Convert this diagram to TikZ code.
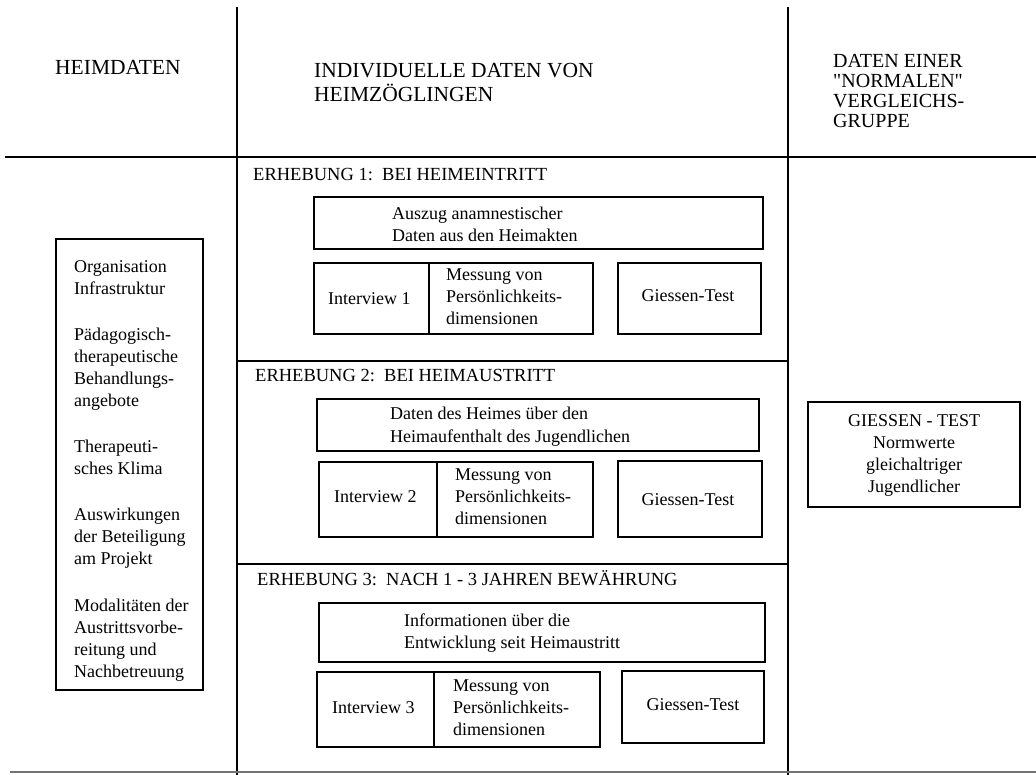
\documentclass[tikz,border=0pt]{standalone}
\usepackage{fontspec}
\setmainfont{Liberation Serif}
\newfontfamily\gerade{Liberation Serif}
\usepackage{tikz}
\usetikzlibrary{positioning}
\tikzstyle{k}  = [draw=black, line width=1.6pt]
\tikzstyle{s}  = [draw=black, line width=2.8pt]
\tikzstyle{tl} = [inner sep=0pt, anchor=base west, align=left, font=\fontsize{18}{22}\selectfont]
\tikzstyle{tm} = [inner sep=0pt, anchor=base, align=center, font=\fontsize{18}{22}\selectfont]
\tikzstyle{eh} = [inner sep=0pt, anchor=base west, font=\fontsize{18.5}{20}\selectfont]
\tikzstyle{hk} = [inner sep=0pt, anchor=base west, align=left, font=\fontsize{21.5}{24}\selectfont]
\tikzstyle{hv} = [inner sep=0pt, anchor=base west, align=left, font=\gerade\fontsize{20}{20.3}\selectfont]

\begin{document}
\begin{tikzpicture}[x=1pt, y=-1pt]
		\useasboundingbox (0,0) rectangle (1036,775);

		% Raster
		\draw[s] (237,7) -- (237,775);
		\draw[s] (788,7) -- (788,775);
		\draw[s] (5,157) -- (1036,157);
		\draw[k] (237,361) -- (788,361);
		\draw[k] (237,564) -- (788,564);
		\draw[line width=1.2pt, black!55] (10,772) -- (1036,772);

		% Kopfzeile (Anker: letzte Zeile)
		\node[hk] (heim)  at (55,75)  {HEIMDATEN};
		\node[hk] (indiv) at (314,102) {INDIVIDUELLE DATEN VON\\HEIMZÖGLINGEN};
		\node[hv] (vgl)   at (833,128) {DATEN EINER\\"NORMALEN"\\VERGLEICHS-\\GRUPPE};

		% Heimdaten
		\draw[k] (56,239) rectangle (203,690);
		\node[tl] (hdat) at (74,677) {Organisation\\Infrastruktur\\[24.25pt]Pädagogisch-\\therapeutische\\Behandlungs-\\angebote\\[24.25pt]Therapeuti-\\sches Klima\\[24.25pt]Auswirkungen\\der Beteiligung\\am Projekt\\[24.25pt]Modalitäten der\\Austrittsvorbe-\\reitung und\\Nachbetreuung};

		% Erhebung 1
		\node[eh] (erh1) at (253,181) {ERHEBUNG 1:\ \ BEI HEIMEINTRITT};
		\draw[k] (314,197) rectangle (763,249);
		\node[tl] (ausz) at (392,242) {Auszug anamnestischer\\Daten aus den Heimakten};
		\draw[k] (314,263) rectangle (593,334);
		\draw[k] (429,263) -- (429,334);
		\node[tl] (int1)  at (328,305) {Interview 1};
		\node[tl] (mess1) at (446,325) {Messung von\\Persönlichkeits-\\dimensionen};
		\draw[k] (618,263) rectangle (761,334);
		\node[tm] (gt1) at (688,302) {Giessen-Test};

		% Erhebung 2
		\node[eh] (erh2) at (255,382) {ERHEBUNG 2:\ \ BEI HEIMAUSTRITT};
		\draw[k] (317,399) rectangle (759,451);
		\node[tl] (daten) at (390,442) {Daten des Heimes über den\\Heimaufenthalt des Jugendlichen};
		\draw[k] (319,462) rectangle (593,537);
		\draw[k] (437,462) -- (437,537);
		\node[tl] (int2)  at (334,502) {Interview 2};
		\node[tl] (mess2) at (455,524) {Messung von\\Persönlichkeits-\\dimensionen};
		\draw[k] (618,461) rectangle (762,537);
		\node[tm] (gt2) at (688,505) {Giessen-Test};

		% Erhebung 3
		\node[eh] (erh3) at (257,585) {ERHEBUNG 3:\ \ NACH 1 - 3 JAHREN BEWÄHRUNG};
		\draw[k] (319,603) rectangle (765,662);
		\node[tl] (info) at (404,648) {Informationen über die\\Entwicklung seit Heimaustritt};
		\draw[k] (317,672) rectangle (600,747);
		\draw[k] (434,672) -- (434,747);
		\node[tl] (int3)  at (332,713) {Interview 3};
		\node[tl] (mess3) at (453,735) {Messung von\\Persönlichkeits-\\dimensionen};
		\draw[k] (622,671) rectangle (764,743);
		\node[tm] (gt3) at (693,710) {Giessen-Test};

		% Vergleichsgruppe
		\draw[k] (808,402) rectangle (1020,507);
		\node[tm] (norm) at (914,492) {GIESSEN - TEST\\Normwerte\\gleichaltriger\\Jugendlicher};
	\end{tikzpicture}
\end{document}
